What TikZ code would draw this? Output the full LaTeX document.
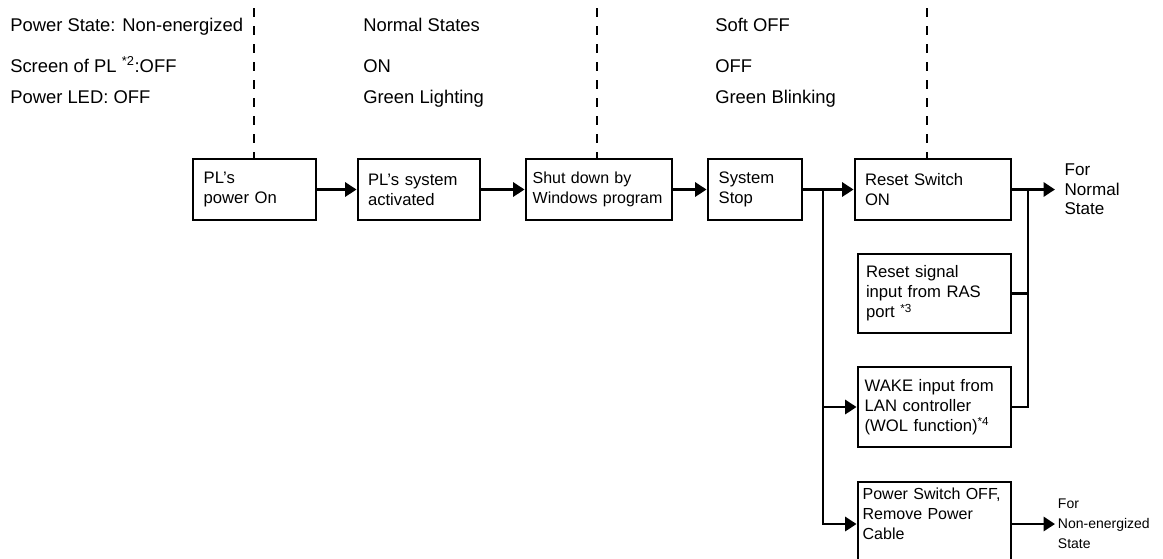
\documentclass[tikz,border=0pt]{standalone}
\usepackage{fontspec}
\setmainfont{Liberation Sans}
\usepackage{tikz}
\usetikzlibrary{arrows.meta, calc}

\begin{document}
\begin{tikzpicture}[
  x=0.75pt, y=-0.75pt,
  box/.style={draw, line width=2.2pt, align=left, inner ysep=0pt, font=\fontsize{12.5}{15}\selectfont},
  toptext/.style={anchor=base west, inner sep=0pt, font=\fontsize{13.8}{16}\selectfont},
  outlbl/.style={anchor=west, align=left, inner ysep=0pt},
  line/.style={line width=2.2pt},
  arrow/.style={line, -{Triangle[length=8.5pt, width=10.5pt]}},
  dashline/.style={line width=2.2pt, dash pattern=on 7pt off 6.5pt}
]
\useasboundingbox (0,0) rectangle (1163,558);

% state rows
\node[toptext] (st1) at (10,31) {Power State: Non-energized};
\node[toptext] (scr1) at (10,72) {Screen of PL \textsuperscript{*2}:OFF};
\node[toptext] (led1) at (10,103.5) {Power LED: OFF};
\node[toptext] (st2) at (363,31) {Normal States};
\node[toptext] (scr2) at (363,72) {ON};
\node[toptext] (led2) at (363,103.5) {Green Lighting};
\node[toptext] (st3) at (715,31) {Soft OFF};
\node[toptext] (scr3) at (715,72) {OFF};
\node[toptext] (led3) at (715,103.5) {Green Blinking};

% main flow
\node[box, text width=76.25pt, inner xsep=8pt, minimum height=45.75pt] (b1) at (254.5,189.5) {PL’s\\power On};
\node[box, text width=76.5pt, inner xsep=7.5pt, minimum height=45.75pt] (b2) at (419,189.5) {PL’s system\\activated};
\node[box, text width=99.5pt, inner xsep=5pt, minimum height=45.75pt, font=\fontsize{12}{15}\selectfont] (b3) at (599,189.5) {Shut down by\\Windows program};
\node[box, text width=54.5pt, inner xsep=8pt, minimum height=45.75pt] (b4) at (755,189.5) {System\\Stop};
\node[box, text width=102pt, inner xsep=7.5pt, minimum height=45.75pt] (b5) at (933,189.5) {Reset Switch\\ON};
\node[box, text width=102.75pt, inner xsep=6pt, minimum height=59.25pt] (b6) at (934.5,293.5) {Reset signal\\input from RAS\\port \textsuperscript{*3}};
\node[box, text width=104.75pt, inner xsep=5pt, minimum height=60pt] (b7) at (934.5,407) {WAKE input from\\LAN controller\\(WOL function)\textsuperscript{*4}};
\node[box, text width=107.75pt, inner xsep=3.5pt, minimum height=63pt, font=\fontsize{12}{15}\selectfont] (b8) at (934.5,524) {Power Switch OFF,\\Remove Power\\Cable\\~};

\node[outlbl, inner xsep=7pt, font=\fontsize{12.8}{14.6}\selectfont] (normal) at (1055,189.5) {For\\Normal\\State};
\node[outlbl, inner xsep=2pt, font=\fontsize{10.5}{15}\selectfont] (nonen) at (1055,524) {For\\Non-energized\\State};

% dashed separators
\coordinate (d1) at (254,8);
\coordinate (d2) at (597,8);
\coordinate (d3) at (927,8);
\draw[dashline] (d1) -- (d1 |- b1.north);
\draw[dashline] (d2) -- (d2 |- b3.north);
\draw[dashline] (d3) -- (d3 |- b5.north);

% connectors
\coordinate (jl) at (823,189.5);
\coordinate (jr) at (1028,189.5);
\draw[arrow] (b1) -- (b2);
\draw[arrow] (b2) -- (b3);
\draw[arrow] (b3) -- (b4);
\draw[arrow] (b4) -- (b5);
\draw[arrow] (jl) |- (b8.west);
\draw[arrow] (jl |- b7.west) -- (b7.west);
\draw[arrow] (b5) -- (normal);
\draw[line] (b6.east) -- (b6.east -| jr);
\draw[line] (b7.east) -| (jr);
\draw[arrow] (b8) -- (nonen);
\end{tikzpicture}
\end{document}
